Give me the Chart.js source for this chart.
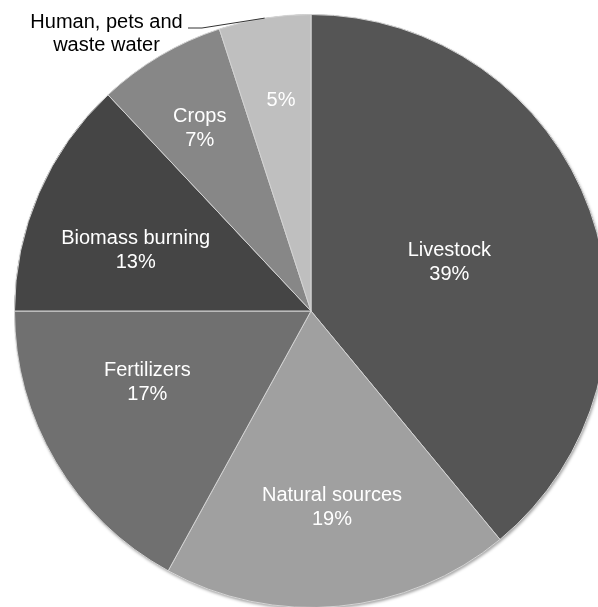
<!DOCTYPE html>
<html>
<head>
<meta charset="utf-8">
<script src="https://cdn.jsdelivr.net/npm/chart.js@4/dist/chart.umd.min.js"></script>
<style>
  html, body { margin: 0; padding: 0; background: #ffffff; overflow: hidden; width: 598px; height: 607px; }
  #wrap { position: absolute; left: 14px; top: 14px; width: 594px; height: 594px; }
</style>
</head>
<body>
<div id="wrap"><canvas id="pie"></canvas></div>
<script>
// Sources of emissions, share in percent
const categories = ['Livestock', 'Natural sources', 'Fertilizers', 'Biomass burning', 'Crops', 'Human, pets and waste water'];
const shares = [39, 19, 17, 13, 7, 5];
const sliceColors = ['#555555', '#a0a0a0', '#707070', '#454545', '#878787', '#bfbfbf'];

// Draws the in-slice labels, and the callout for the small slice
const sliceLabels = {
  id: 'sliceLabels',
  beforeDatasetsDraw(chart) {
    const arc = chart.getDatasetMeta(0).data[0];
    if (!arc) return;
    const { x, y, outerRadius } = arc.getProps(['x', 'y', 'outerRadius'], true);
    const ctx = chart.ctx;
    ctx.save();
    ctx.shadowColor = 'rgba(0,0,0,0.35)';
    ctx.shadowBlur = 3;
    ctx.shadowOffsetX = 1;
    ctx.shadowOffsetY = 2;
    ctx.fillStyle = '#888888';
    ctx.beginPath();
    ctx.arc(x, y, outerRadius, 0, Math.PI * 2);
    ctx.fill();
    ctx.restore();
  },
  afterDatasetsDraw(chart, args, opts) {
    const ctx = chart.ctx;
    const ds = chart.data.datasets[0];
    const meta = chart.getDatasetMeta(0);
    ctx.save();
    ctx.font = '20px "Liberation Sans", Arial, sans-serif';
    ctx.textAlign = 'center';
    meta.data.forEach((el, i) => {
      const p = el.getProps(['x', 'y', 'startAngle', 'endAngle', 'outerRadius'], true);
      const mid = (p.startAngle + p.endAngle) / 2;
      const a = mid + opts.angleShift[i] * Math.PI / 180;
      const r = p.outerRadius * opts.radius[i];
      const cx = p.x + Math.cos(a) * r;
      const cy = p.y + Math.sin(a) * r;
      const pct = ds.data[i] + '%';
      ctx.fillStyle = '#ffffff';
      ctx.textBaseline = 'middle';
      const o = opts.outside[i];
      if (o) {
        ctx.fillText(pct, cx, cy);
        // callout line from the rim to the name
        const ex = p.x + Math.cos(mid) * p.outerRadius;
        const ey = p.y + Math.sin(mid) * p.outerRadius;
        ctx.strokeStyle = '#333333';
        ctx.lineWidth = 1;
        ctx.beginPath();
        ctx.moveTo(ex, ey);
        o.path.forEach(([px, py]) => ctx.lineTo(px, py));
        ctx.stroke();
        ctx.fillStyle = '#000000';
        ctx.textBaseline = 'alphabetic';
        o.lines.forEach((ln, k) => ctx.fillText(ln, o.textX, o.textY + k * 23));
      } else {
        ctx.fillText(chart.data.labels[i], cx, cy - 12);
        ctx.fillText(pct, cx, cy + 12);
      }
    });
    ctx.restore();
  }
};

new Chart(document.getElementById('pie'), {
  type: 'pie',
  data: {
    labels: categories,
    datasets: [{
      data: shares,
      backgroundColor: sliceColors,
      borderColor: '#d4d4d4',
      borderWidth: 1
    }]
  },
  options: {
    responsive: true,
    maintainAspectRatio: false,
    animation: false,
    layout: { padding: 0 },
    plugins: {
      legend: { display: false },
      tooltip: { enabled: false },
      sliceLabels: {
        radius: [0.494, 0.666, 0.602, 0.625, 0.72, 0.717],
        angleShift: [0.6, -0.7, 7.1, -4.5, -0.8, 0.9],
        outside: [null, null, null, null, null,
          { lines: ['Human, pets and', 'waste water'], textX: 92.5, textY: 14, path: [[188, 14], [174, 14]] }]
      }
    }
  },
  plugins: [sliceLabels]
});
</script>
</body>
</html>
